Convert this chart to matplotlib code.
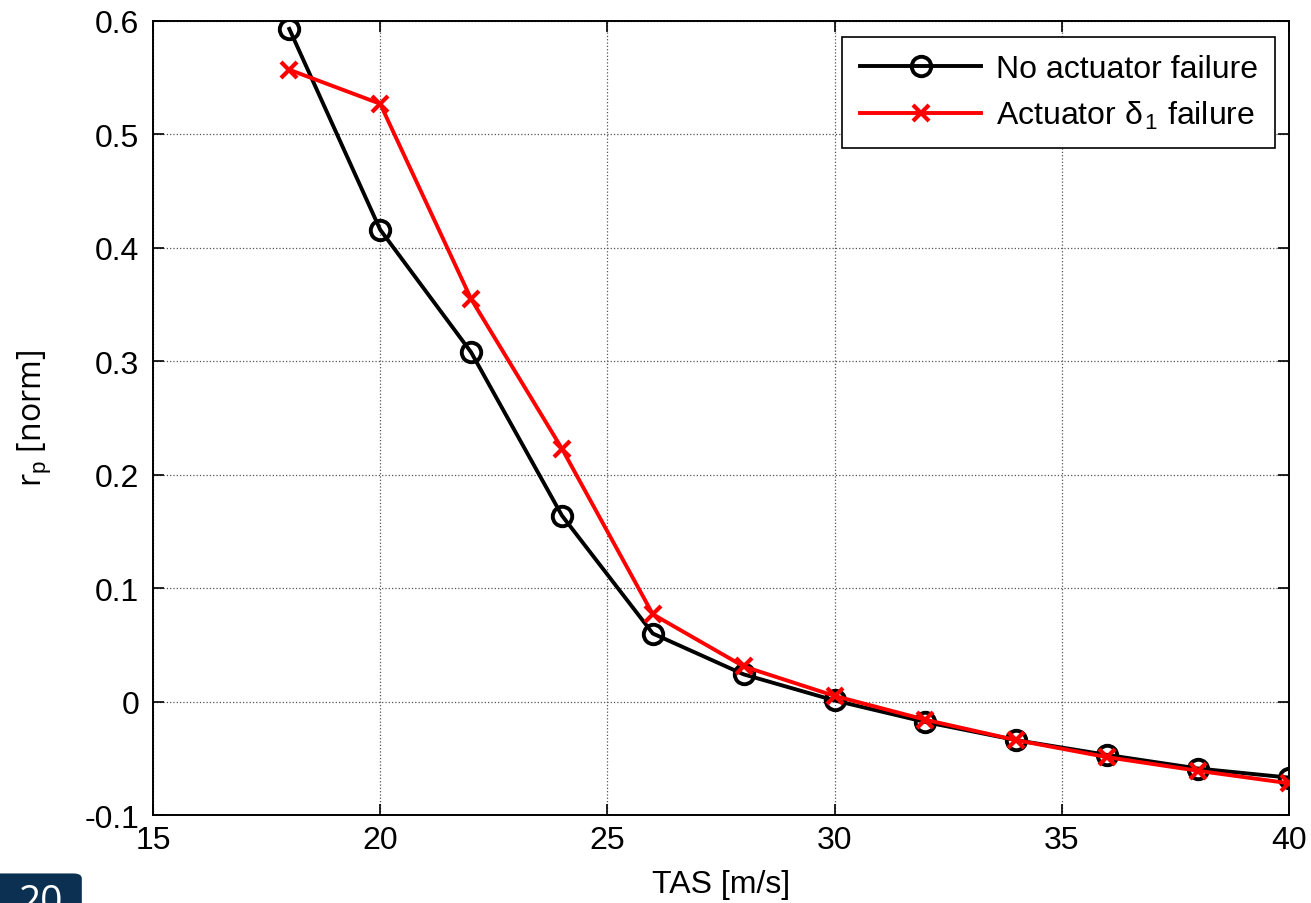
import matplotlib
matplotlib.use("Agg")
import matplotlib.pyplot as plt
from matplotlib.patches import FancyBboxPatch

plt.rcParams["font.family"] = ["Liberation Sans", "DejaVu Sans"]
plt.rcParams["mathtext.fontset"] = "custom"
plt.rcParams["mathtext.rm"] = "Liberation Sans"
plt.rcParams["mathtext.it"] = "Liberation Sans"

tas = [18, 20, 22, 24, 26, 28, 30, 32, 34, 36, 38, 40]
no_failure = [0.593, 0.416, 0.308, 0.164, 0.060, 0.024, 0.001,
              -0.018, -0.034, -0.047, -0.059, -0.067]
delta1_failure = [0.557, 0.527, 0.355, 0.223, 0.077, 0.031, 0.005,
                  -0.016, -0.034, -0.049, -0.061, -0.072]

xticks = [15, 20, 25, 30, 35, 40]
yticks = [-0.1, 0, 0.1, 0.2, 0.3, 0.4, 0.5, 0.6]
ytick_labels = ["-0.1", "0", "0.1", "0.2", "0.3", "0.4", "0.5", "0.6"]


def main():
    fig = plt.figure(figsize=(13.11, 9.04), dpi=100)
    ax = fig.add_axes([0.1167, 0.0973, 0.8665, 0.8784])

    ax.plot(tas, no_failure, color="black", lw=2.8, marker="o", ms=14,
            mfc="none", mew=2.8, label="No actuator failure", zorder=3)
    ax.plot(tas, delta1_failure, color="red", lw=2.8, marker="x", ms=11,
            mew=3.0, label=r"Actuator $\delta_{\,1}$ failure", zorder=4)

    ax.set_xlim(15, 40)
    ax.set_ylim(-0.1, 0.6)
    ax.set_xticks(xticks)
    ax.set_yticks(yticks)
    ax.set_yticklabels(ytick_labels)
    ax.tick_params(direction="in", length=8, width=1.2, labelsize=23,
                   top=True, right=True)
    ax.tick_params(axis="x", pad=7)
    ax.tick_params(axis="y", pad=10)
    ax.grid(True, color="#555555", linestyle=":", linewidth=0.9)
    for s in ax.spines.values():
        s.set_linewidth(1.4)

    ax.set_xlabel("TAS [m/s]", fontsize=23, labelpad=10)
    ax.set_ylabel(r"r$_\mathrm{p}$ [norm]", fontsize=23,
                  family=["Open Sans", "DejaVu Sans"], labelpad=22)

    leg = ax.legend(loc="upper right", fontsize=23, frameon=True,
                    fancybox=False, edgecolor="black", framealpha=1,
                    handlelength=3.8, handletextpad=0.45,
                    borderaxespad=0, borderpad=0.55,
                    labelspacing=0.45, bbox_to_anchor=(0.988, 0.98))
    leg.get_frame().set_linewidth(1.2)

    # slide page badge
    badge = FancyBboxPatch((-0.01, -0.02), 0.074, 0.055,
                           boxstyle="round,pad=0,rounding_size=0.008",
                           transform=fig.transFigure, facecolor="#0b3052",
                           edgecolor="white", linewidth=3)
    fig.patches.append(badge)
    fig.text(0.031, -0.02, "20", color="white", fontsize=28,
             ha="center", va="bottom", family=["Open Sans", "DejaVu Sans"])

    fig.savefig("out.png", dpi=100)


if __name__ == "__main__":
    main()
